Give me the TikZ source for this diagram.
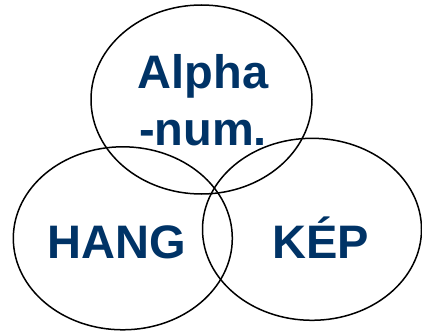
\documentclass[tikz,border=0pt]{standalone}
\usepackage{fontspec}
\setmainfont{Liberation Sans}
\usetikzlibrary{shapes.geometric}
\definecolor{labelblue}{RGB}{0,51,102}
\begin{document}
\begin{tikzpicture}[x=1pt,y=-1pt,
  setring/.style={draw=black, line width=1.5pt, ellipse, inner sep=0pt, outer sep=0pt},
  setlabel/.style={text=labelblue, font=\fontsize{47}{57}\selectfont\bfseries, inner sep=0pt, anchor=base, align=center}]
  \useasboundingbox (0,0) rectangle (422,331);
  % three overlapping sets
  \node[setring, minimum width=221pt, minimum height=189pt] (top) at (201.5,99.5) {};
  \node[setring, minimum width=219pt, minimum height=183pt] (left) at (122.8,238.3) {};
  \node[setring, minimum width=219pt, minimum height=182pt] (right) at (312,229.3) {};
  % set names (base anchor sits on the last line of a multi-line label)
  \node[setlabel] (alnum) at (203,145.7) {Alpha\\-num.};
  \node[setlabel] (hang) at (117,258) {HANG};
  \node[setlabel] (kep) at (320.5,258) {KÉP};
\end{tikzpicture}
\end{document}
